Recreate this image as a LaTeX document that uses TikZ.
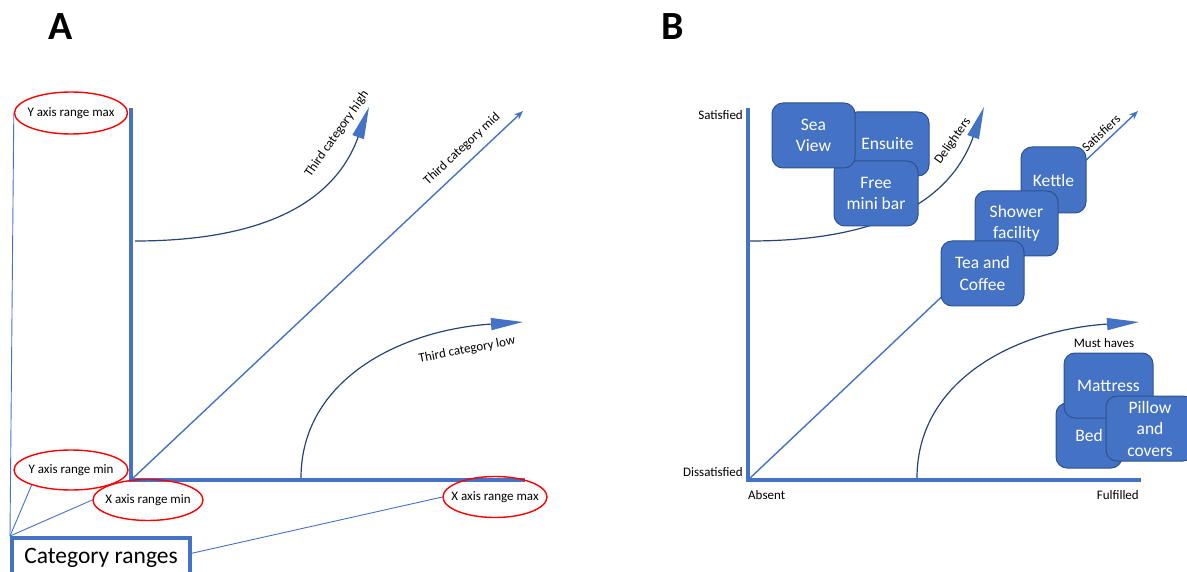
\documentclass[tikz,border=0pt]{standalone}
\usepackage{fontspec}
\setmainfont{Carlito}
\usetikzlibrary{arrows.meta,shapes.geometric}
\definecolor{boxblue}{RGB}{68,114,196}
\definecolor{boxline}{RGB}{47,82,143}
\definecolor{curvenavy}{RGB}{38,68,120}
\definecolor{ringred}{RGB}{255,0,0}
\begin{document}
\begin{tikzpicture}[x=1pt,y=-1pt,
  axisline/.style={boxblue,line width=4.5pt,line join=miter},
  thinlink/.style={boxblue,line width=0.9pt},
  midarrow/.style={boxblue,line width=1.4pt,-{Stealth[length=9pt,width=7pt]}},
  bentarrow/.style={curvenavy,line width=1.2pt,-{Triangle[length=32pt,width=12pt,color=boxblue]}},
  ring/.style={ellipse,draw=ringred,line width=1.4pt,inner xsep=-10pt,inner ysep=0pt,font=\fontsize{13}{15}\selectfont},
  lbl/.style={inner sep=0pt,font=\fontsize{13}{15}\selectfont},
  panel/.style={inner sep=0pt,font=\fontsize{40}{44}\selectfont\bfseries},
  item/.style={draw=boxline,fill=boxblue,line width=1pt,rounded corners=11pt,text=white,align=center,inner sep=0pt,font=\fontsize{17.5}{21.5}\selectfont}
]
\useasboundingbox (0,0) rectangle (1187,572);

% ---------------- Panel A: generic layout ----------------
\node[panel] (labA) at (61,27) {A};

\coordinate (yA) at (131,108);
\coordinate (oA) at (131,480);
\coordinate (xA) at (525,480);
\draw[axisline] (yA) -- (oA) -- (xA);

% category curves
\coordinate (hiA0) at (135,241);
\coordinate (hiA1) at (369,107);
\draw[bentarrow] (hiA0) .. controls (240,241) and (330,215) .. (hiA1);
\coordinate (midA1) at (523,111);
\draw[midarrow] (oA) -- (midA1);
\coordinate (loA0) at (301,478);
\coordinate (loA1) at (523,322);
\draw[bentarrow] (loA0) .. controls (301,380) and (400,330) .. (loA1);

\node[lbl,rotate=55] (tHigh) at (337,134) {Third category high};
\node[lbl,rotate=43] (tMid) at (462,149) {Third category mid};
\node[lbl,rotate=11] (tLow) at (467,350) {Third category low};

% range call-outs
\node[ring,minimum width=113pt,minimum height=42pt] (ymax) at (71,113) {Y axis range max};
\node[ring,minimum width=114pt,minimum height=40pt] (ymin) at (71,470) {Y axis range min};
\node[ring,minimum width=110pt,minimum height=41pt] (xmin) at (148,500) {X axis range min};
\node[ring,minimum width=104pt,minimum height=41pt] (xmax) at (495,497) {X axis range max};

\node[draw=boxblue,line width=4pt,minimum width=178pt,minimum height=40pt,inner sep=0pt,
      font=\fontsize{23.5}{26}\selectfont] (cat) at (101,558) {Category ranges};

\draw[thinlink] (ymax.west) -- (cat.north west);
\draw[thinlink] (ymin.201) -- (cat.north west);
\draw[thinlink] (xmin.west) -- (cat.north west);
\draw[thinlink] (xmax.west) -- (cat.3);

% ---------------- Panel B: hotel example ----------------
\node[panel] (labB) at (673,27) {B};

\coordinate (yB) at (748,108);
\coordinate (oB) at (748,480);
\coordinate (xB) at (1141,480);
\draw[axisline] (yB) -- (oB) -- (xB);

\node[lbl,anchor=east] (satis) at (743,115) {Satisfied};
\node[lbl,anchor=east] (dissat) at (743,472) {Dissatisfied};
\node[lbl,anchor=west] (absent) at (748,495) {Absent};
\node[lbl,anchor=east] (fulfil) at (1139,495) {Fulfilled};

\coordinate (hiB0) at (750,241);
\coordinate (hiB1) at (984,107);
\draw[bentarrow] (hiB0) .. controls (855,241) and (945,215) .. (hiB1);
\coordinate (midB1) at (1138,111);
\draw[midarrow] (oB) -- (midB1);
\coordinate (loB0) at (917,478);
\coordinate (loB1) at (1139,322);
\draw[bentarrow] (loB0) .. controls (917,380) and (1016,330) .. (loB1);

\node[lbl,rotate=55] (tDel) at (953,141) {Delighters};
\node[lbl,rotate=43] (tSat) at (1101,133) {Satisfiers};
\node[lbl] (tMust) at (1104,343) {Must haves};

% delighters
\node[item,minimum width=83pt,minimum height=64pt] (ensuite) at (887.5,144) {Ensuite};
\node[item,minimum width=84pt,minimum height=65pt] (minibar) at (876,193.5) {Free\\mini bar};
\node[item,minimum width=83pt,minimum height=65pt] (seaview) at (813.5,135.5) {Sea\\View};

% satisfiers
\node[item,minimum width=65pt,minimum height=66pt] (kettle) at (1053.5,180) {Kettle};
\node[item,minimum width=83pt,minimum height=65pt] (shower) at (1016.5,223.5) {Shower\\facility};
\node[item,minimum width=83pt,minimum height=65pt] (tea) at (982.5,273.5) {Tea and\\Coffee};

% must haves
\node[item,minimum width=66pt,minimum height=65pt] (bed) at (1089,435.5) {Bed};
\node[item,minimum width=89pt,minimum height=65pt] (mattress) at (1108.5,385.5) {Mattress};
\node[item,minimum width=88pt,minimum height=65pt] (pillow) at (1150,428.5) {Pillow\\and\\covers};
\end{tikzpicture}
\end{document}
